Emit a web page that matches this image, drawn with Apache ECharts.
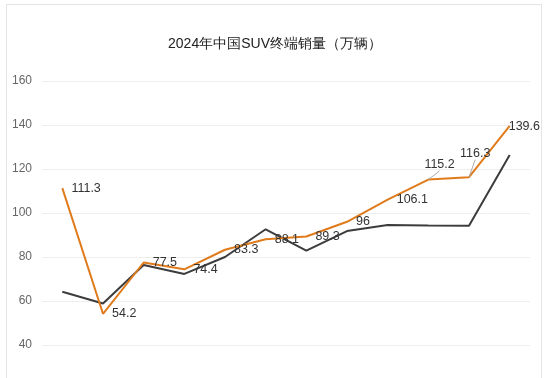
<!DOCTYPE html>
<html>
<head>
<meta charset="utf-8">
<script src="https://cdn.jsdelivr.net/npm/echarts@6/dist/echarts.min.js"></script>
<style>
  html, body { margin: 0; padding: 0; background: #fff; overflow: hidden; }
  #main { position: absolute; left: 0; top: 0; width: 550px; height: 470px; }
  #frame { position: absolute; left: 6px; top: 4px; width: 534px; height: 500px;
           border: 1px solid #e4e4e4; pointer-events: none; }
</style>
</head>
<body>
<div id="main"></div>
<div id="frame"></div>
<script>
const months = ['1月', '2月', '3月', '4月', '5月', '6月', '7月', '8月', '9月', '10月', '11月', '12月']
const sales2024 = [111.3, 54.2, 77.5, 74.4, 83.3, 88.1, 89.3, 96, 106.1, 115.2, 116.3, 139.6]
const sales2023 = [64.2, 58.9, 76.4, 72.3, 80.0, 92.6, 82.9, 91.8, 94.5, 94.3, 94.2, 126.4]
const yTicks = [0, 20, 40, 60, 80, 100, 120, 140, 160]

// labels that were nudged (index -> [dx, dy]); 9 and 10 get a leader line
const moved = { 9: [-13, -15], 10: [-18, -24], 11: [-10, 1] }
const withLine = [9, 10]

const chart = echarts.init(document.getElementById('main'))

chart.setOption({
  animation: false,
  title: {
    text: '2024年中国SUV终端销量（万辆）',
    left: 'center',
    top: 32,
    textStyle: { fontSize: 14, fontWeight: 'normal', color: '#222' }
  },
  grid: { left: 42, right: 20, top: 81, bottom: 37 },
  xAxis: {
    type: 'category',
    data: months,
    axisTick: { show: false },
    axisLine: { lineStyle: { color: '#ccc' } },
    axisLabel: { color: '#666' }
  },
  yAxis: {
    type: 'value',
    min: yTicks[0],
    max: yTicks[yTicks.length - 1],
    interval: 20,
    axisLabel: { color: '#666', fontSize: 12, margin: 10 },
    splitLine: { lineStyle: { color: '#eeeeee' } }
  },
  series: [
    {
      name: '2023',
      type: 'line',
      data: sales2023,
      symbol: 'none',
      lineStyle: { color: '#3c3c3c', width: 2 },
      itemStyle: { color: '#3c3c3c' }
    },
    {
      name: '2024',
      type: 'line',
      data: sales2024.map((v, i) => withLine.includes(i)
        ? { value: v, labelLine: { show: true, lineStyle: { color: '#aaa', width: 1 } } }
        : v),
      symbol: 'circle',
      symbolSize: 0.1,
      showSymbol: true,
      z: 3,
      lineStyle: { color: '#e07b1c', width: 2 },
      itemStyle: { color: '#e07b1c' },
      label: {
        show: true,
        position: 'right',
        distance: 9,
        color: '#333',
        fontSize: 12.5
      },
      labelLayout: (p) => {
        const m = moved[p.dataIndex]
        return m ? { dx: m[0], dy: m[1] } : {}
      }
    }
  ]
})
</script>
</body>
</html>
